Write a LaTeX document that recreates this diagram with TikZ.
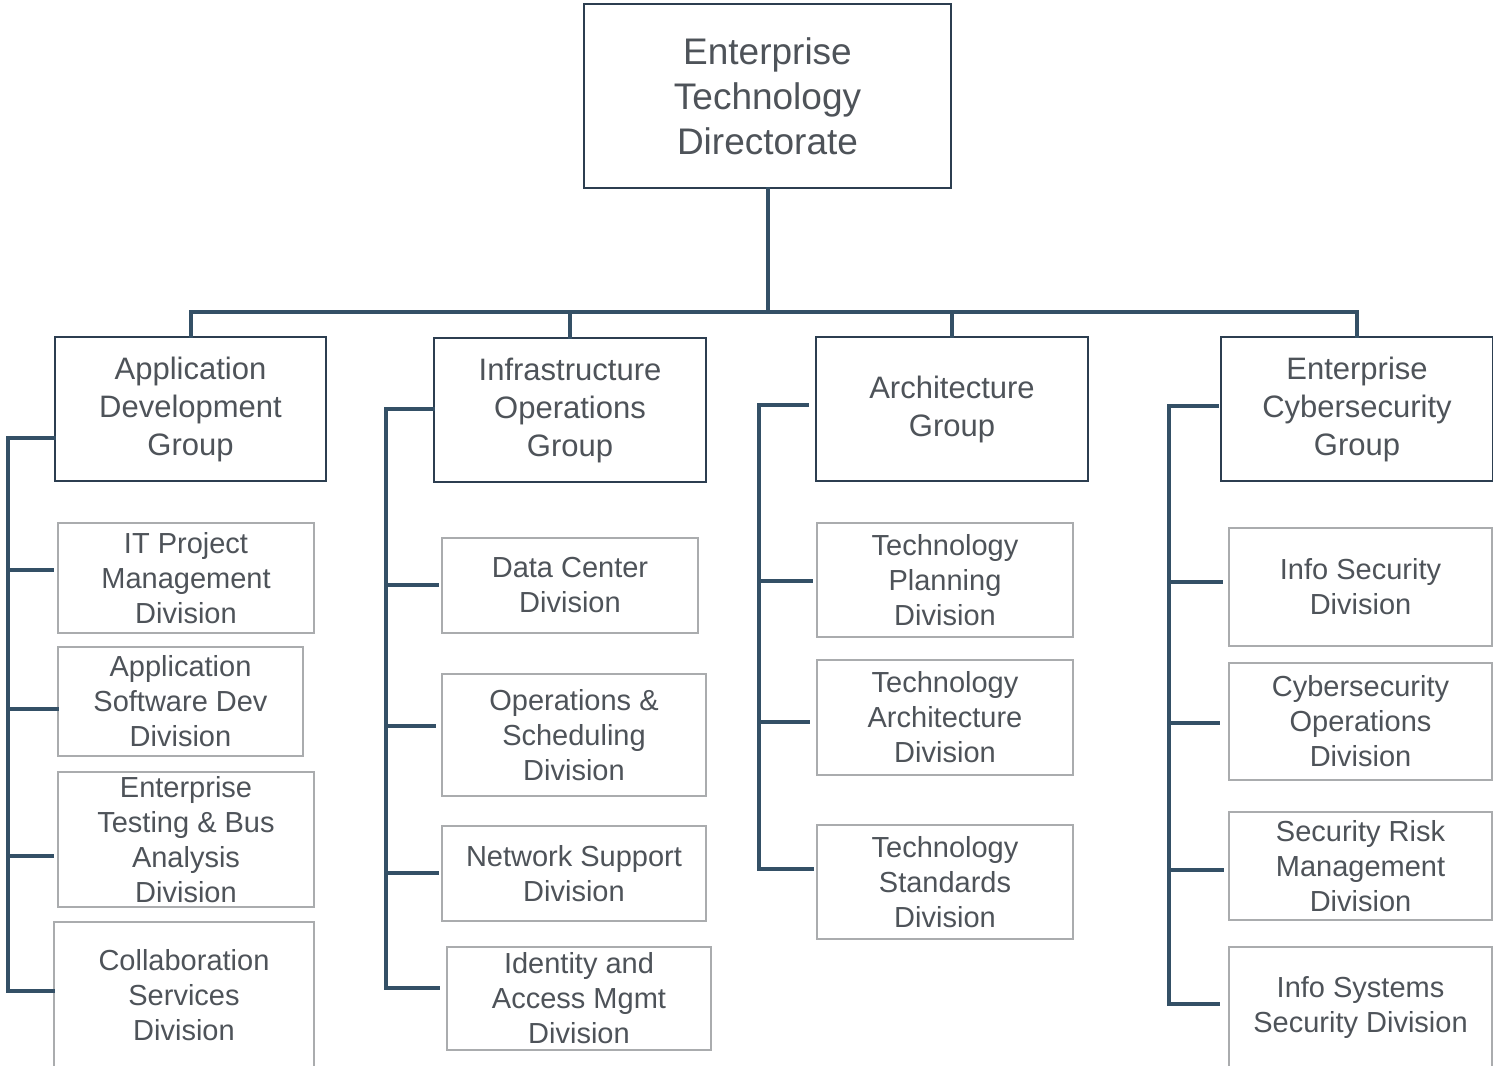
\documentclass[tikz,border=0pt]{standalone}
\usepackage{fontspec}
\setmainfont{Liberation Sans}
\definecolor{connc}{RGB}{52,80,102}
\definecolor{grpc}{RGB}{44,62,80}
\definecolor{divc}{RGB}{170,172,174}
\definecolor{txtc}{RGB}{78,83,89}
\begin{document}
\begin{tikzpicture}[x=1pt,y=-1pt,
  base/.style={fill=white,text=txtc,align=center,inner sep=0pt,anchor=center},
  topbox/.style={base,draw=grpc,line width=1.8pt,font=\fontsize{37}{45}\selectfont},
  grp/.style={base,draw=grpc,line width=1.8pt,font=\fontsize{31}{38}\selectfont},
  divbox/.style={base,draw=divc,line width=1.8pt,font=\fontsize{29}{35}\selectfont},
  conn/.style={draw=connc,line width=4pt,line cap=rect,line join=miter}]
\useasboundingbox (0,0) rectangle (1493,1065);
\clip (0,0) rectangle (1493,1065);

% nodes
\node[topbox,minimum width=367,minimum height=184] (top) at (767.5,96) {Enterprise\\Technology\\Directorate};

\node[grp,minimum width=271,minimum height=144] (g1) at (190.5,409) {Application\\Development\\Group};
\node[grp,minimum width=272,minimum height=144] (g2) at (570,410) {Infrastructure\\Operations\\Group};
\node[grp,minimum width=272,minimum height=144] (g3) at (952,409) {Architecture\\Group};
\node[grp,minimum width=272,minimum height=144] (g4) at (1357,409) {Enterprise\\Cybersecurity\\Group};

\node[divbox,minimum width=256,minimum height=110] (d11) at (186,578) {IT Project\\Management\\Division};
\node[divbox,minimum width=245,minimum height=109] (d12) at (180.5,701.5) {Application\\Software Dev\\Division};
\node[divbox,minimum width=256,minimum height=135] (d13) at (186,839.5) {Enterprise\\Testing \& Bus\\Analysis\\Division};
\node[divbox,minimum width=260,minimum height=146] (d14) at (184,995) {Collaboration\\Services\\Division};

\node[divbox,minimum width=256,minimum height=95] (d21) at (570,585.5) {Data Center\\Division};
\node[divbox,minimum width=264,minimum height=122] (d22) at (574,735) {Operations \&\\Scheduling\\Division};
\node[divbox,minimum width=264,minimum height=95] (d23) at (574,873.5) {Network Support\\Division};
\node[divbox,minimum width=264,minimum height=103] (d24) at (579,998.5) {Identity and\\Access Mgmt\\Division};

\node[divbox,minimum width=256,minimum height=114] (d31) at (945,580) {Technology\\Planning\\Division};
\node[divbox,minimum width=256,minimum height=115] (d32) at (945,717.5) {Technology\\Architecture\\Division};
\node[divbox,minimum width=256,minimum height=114] (d33) at (945,882) {Technology\\Standards\\Division};

\node[divbox,minimum width=263,minimum height=118] (d41) at (1360.5,587) {Info Security\\Division};
\node[divbox,minimum width=263,minimum height=117] (d42) at (1360.5,721.5) {Cybersecurity\\Operations\\Division};
\node[divbox,minimum width=263,minimum height=108] (d43) at (1360.5,866) {Security Risk\\Management\\Division};
\node[divbox,minimum width=263,minimum height=121] (d44) at (1360.5,1007.5) {Info Systems\\Security Division};

% top connectors
\coordinate (bus) at (767.5,312);
\draw[conn] (top.south) -- (bus);
\draw[conn] (g1.north) -- (g1.north |- bus) -- (g4.north |- bus) -- (g4.north);
\draw[conn] (g2.north) -- (g2.north |- bus);
\draw[conn] (g3.north) -- (g3.north |- bus);

% column trunks
\coordinate (t1) at (8,0);
\coordinate (t2) at (386,0);
\coordinate (t3) at (759,0);
\coordinate (t4) at (1169,0);

% column 1
\draw[conn] (g1.west |- 0,438) -- (t1 |- 0,438) -- (t1 |- 0,991) -- (d14.west |- 0,991);
\draw[conn,shorten >=5pt] (t1 |- 0,570) -- (d11.west |- 0,570);
\draw[conn] (t1 |- 0,709) -- (d12.west |- 0,709);
\draw[conn,shorten >=5pt] (t1 |- 0,856) -- (d13.west |- 0,856);

% column 2
\draw[conn,shorten <=8pt] (d24.west |- 0,988) -- (t2 |- 0,988) -- (t2 |- 0,409) -- (g2.west |- 0,409);
\draw[conn,shorten >=4pt] (t2 |- 0,585) -- (d21.west |- 0,585);
\draw[conn,shorten >=7pt] (t2 |- 0,726) -- (d22.west |- 0,726);
\draw[conn,shorten >=4pt] (t2 |- 0,873) -- (d23.west |- 0,873);

% column 3
\draw[conn,shorten <=8pt] (g3.west |- 0,405) -- (t3 |- 0,405) -- (t3 |- 0,869);
\draw[conn,shorten >=5pt] (t3 |- 0,581) -- (d31.west |- 0,581);
\draw[conn,shorten >=8pt] (t3 |- 0,722) -- (d32.west |- 0,722);
\draw[conn,shorten >=4pt] (t3 |- 0,869) -- (d33.west |- 0,869);

% column 4
\draw[conn,shorten <=3pt,shorten >=10pt] (g4.west |- 0,406) -- (t4 |- 0,406) -- (t4 |- 0,1004) -- (d44.west |- 0,1004);
\draw[conn,shorten >=7pt] (t4 |- 0,582) -- (d41.west |- 0,582);
\draw[conn,shorten >=10pt] (t4 |- 0,723) -- (d42.west |- 0,723);
\draw[conn,shorten >=6pt] (t4 |- 0,870) -- (d43.west |- 0,870);
\end{tikzpicture}
\end{document}
